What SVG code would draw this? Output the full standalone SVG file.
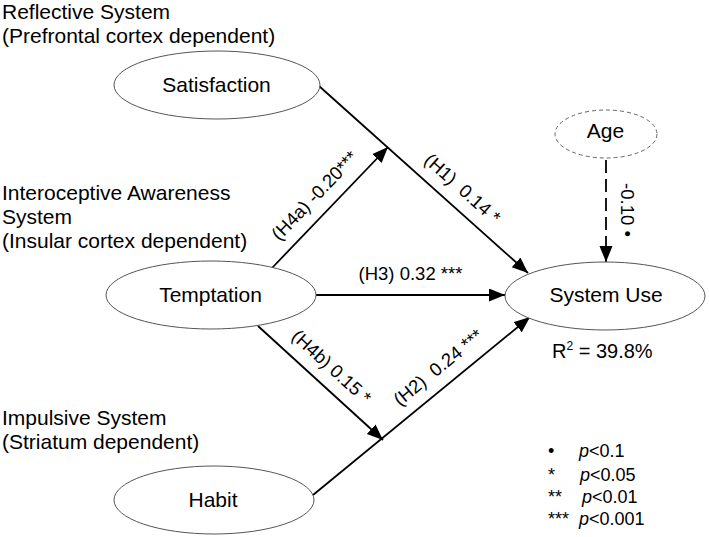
<svg xmlns="http://www.w3.org/2000/svg" width="709" height="537" viewBox="0 0 709 537">
<defs>
<style>
text{font-family:"Liberation Sans",Arial,sans-serif;fill:#000}
.grp{font-size:21px}
.node ellipse{fill:#fff;stroke:#555;stroke-width:1}
.node text{font-size:21px;text-anchor:middle}
.dashed ellipse{stroke:#666;stroke-dasharray:4 3}
.edge{stroke:#000;stroke-width:1.8;fill:none;marker-end:url(#arr)}
.lbl{font-size:18.5px;white-space:pre}
.mid{text-anchor:middle}
.leg{font-size:18px}
</style>
<marker id="arr" markerUnits="userSpaceOnUse" markerWidth="17" markerHeight="14" refX="16" refY="6.5" orient="auto">
<path d="M0,0 L16,6.5 L0,13 Z" fill="#000"/>
</marker>
</defs>
<rect width="709" height="537" fill="#fff"/>

<g id="group-labels" class="grp">
<text x="2" y="18.5">Reflective System</text>
<text x="2" y="42.5">(Prefrontal cortex dependent)</text>
<text x="2" y="200">Interoceptive Awareness</text>
<text x="2" y="224">System</text>
<text x="2" y="248">(Insular cortex dependent)</text>
<text x="2" y="425">Impulsive System</text>
<text x="2" y="449">(Striatum dependent)</text>
</g>

<g id="connectors">
<line class="edge" x1="319" y1="86" x2="528" y2="273"/>
<line class="edge" x1="272" y1="268" x2="388" y2="147"/>
<line class="edge" x1="316" y1="295" x2="505" y2="295"/>
<line class="edge" x1="258" y1="326" x2="383" y2="440"/>
<line class="edge" x1="313" y1="495" x2="530" y2="317"/>
<line class="edge" x1="606" y1="160" x2="606" y2="262" stroke-dasharray="13 6"/>
<text class="lbl mid" transform="translate(328.6,208.9) rotate(-46.2)" y="-13">(H4a) -0.20***</text>
<text class="lbl mid" transform="translate(449.7,203) rotate(41.8)" y="-13">(H1)  0.14 *</text>
<text class="lbl mid" x="410.5" y="280">(H3) 0.32 ***</text>
<text class="lbl mid" transform="translate(318.5,381.1) rotate(42.4)" y="-13">(H4b) 0.15 *</text>
<text class="lbl mid" transform="translate(450.4,382.3) rotate(-39.4)" y="-13">(H2)  0.24 ***</text>
<text class="lbl mid" transform="translate(621,210) rotate(90)" y="0">-0.10 •</text>
</g>

<g id="satisfaction" class="node">
<ellipse cx="217" cy="85" rx="103" ry="34"/>
<text x="216.5" y="92">Satisfaction</text>
</g>
<g id="temptation" class="node">
<ellipse cx="211" cy="295" rx="105" ry="34"/>
<text x="210.5" y="302">Temptation</text>
</g>
<g id="habit" class="node">
<ellipse cx="214" cy="500" rx="100" ry="34"/>
<text x="213" y="507">Habit</text>
</g>
<g id="system-use" class="node">
<ellipse cx="605" cy="296" rx="100" ry="34"/>
<text x="606" y="302">System Use</text>
</g>
<g id="age" class="node dashed">
<ellipse cx="606" cy="134" rx="51" ry="24"/>
<text x="605.5" y="138">Age</text>
</g>

<g id="r-squared">
<text x="552" y="358" font-size="20">R<tspan font-size="12" dy="-8">2</tspan><tspan dy="8"> = 39.8%</tspan></text>
</g>

<g id="legend" class="leg">
<text x="548" y="457">•</text><text x="579" y="457"><tspan font-style="italic">p</tspan>&lt;0.1</text>
<text x="548" y="481">*</text><text x="580" y="481"><tspan font-style="italic">p</tspan>&lt;0.05</text>
<text x="548" y="503">**</text><text x="582" y="503"><tspan font-style="italic">p</tspan>&lt;0.01</text>
<text x="548" y="525">***</text><text x="579" y="525"><tspan font-style="italic">p</tspan>&lt;0.001</text>
</g>
</svg>
